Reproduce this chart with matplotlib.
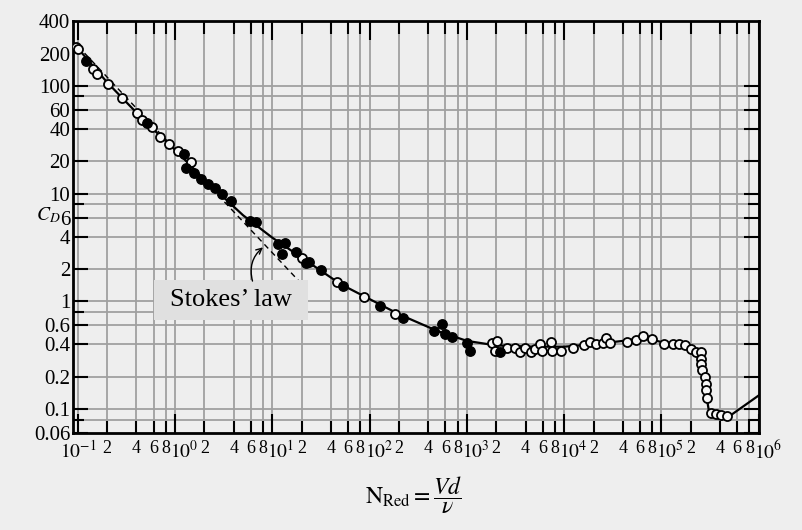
import numpy as np
import matplotlib
matplotlib.use('Agg')
import matplotlib.pyplot as plt
from matplotlib.patches import Rectangle
from matplotlib.transforms import ScaledTranslation

plt.rcParams['font.family'] = ['Liberation Serif', 'DejaVu Serif']
plt.rcParams['mathtext.fontset'] = 'stix'

# Curva suave de C_D frente a Re
re_curve = [0.09, 0.2, 0.5, 1, 2, 5, 10, 20, 50, 100, 200, 500, 1000, 2000, 5000,
            1e4, 2e4, 4e4, 6.5e4, 1e5, 1.6e5, 2.3e5, 2.6e5, 2.8e5, 2.95e5, 3.05e5,
            3.4e5, 4.9e5, 1e6]
cd_curve = [250, 108, 46, 25.5, 13.5, 6.3, 3.9, 2.55, 1.45, 1.05, 0.76, 0.53, 0.43, 0.39, 0.38,
            0.38, 0.40, 0.43, 0.46, 0.42, 0.39, 0.34, 0.30, 0.20, 0.12, 0.10,
            0.09, 0.085, 0.134]

# Ley de Stokes (línea discontinua)
re_stokes = [0.1, 20]
cd_stokes = [235, 1.45]

# Puntos abiertos
re_open = [0.095, 0.1, 0.143, 0.157, 0.203, 0.282, 0.403, 0.453, 0.573, 0.692, 0.855, 1.06,
           1.47, 20.2, 46.1, 87.3, 181,
           1830, 2060, 1920, 2600, 3150, 3540, 3980, 4590, 5050, 5680, 5960, 7360, 7540,
           9310, 12400, 16000, 18500, 21300, 25100, 26900, 29600, 44200, 54700, 64400,
           79800, 106000, 131000, 151000, 174000, 200000, 225000, 253000, 253000, 256000,
           259000, 279000, 285000, 287000, 292000, 321000, 361000, 406000, 468000]
cd_open = [230, 220, 145, 130, 104, 77, 56.5, 48.5, 41.6, 33.4, 28.7, 25.1,
           19.7, 2.53, 1.52, 1.09, 0.76,
           0.41, 0.43, 0.35, 0.37, 0.37, 0.34, 0.37, 0.34, 0.36, 0.40, 0.35, 0.42, 0.35,
           0.35, 0.37, 0.39, 0.42, 0.40, 0.415, 0.46, 0.415, 0.42, 0.44, 0.48,
           0.45, 0.40, 0.40, 0.40, 0.39, 0.36, 0.34, 0.34, 0.29, 0.26,
           0.23, 0.20, 0.17, 0.15, 0.128, 0.092, 0.090, 0.088, 0.087]

# Puntos rellenos
re_fill = [0.121, 0.509, 1.22, 1.28, 1.58, 1.86, 2.15, 2.59, 3.06, 3.79, 5.93, 6.83,
           11.5, 13.5, 12.6, 17.5, 22.3, 23.8, 31.6, 53.1, 127, 219, 455, 550, 589,
           695, 991, 1063, 2210]
cd_fill = [169, 45.4, 23.5, 17.3, 15.5, 13.6, 12.4, 11.4, 10.0, 8.6, 5.53, 5.42,
           3.40, 3.48, 2.75, 2.87, 2.28, 2.33, 1.97, 1.40, 0.90, 0.70, 0.53, 0.62, 0.50,
           0.47, 0.41, 0.35, 0.34]

# Marcas de los ejes
x_major = [10.0 ** k for k in range(-1, 7)]
x_major_labels = [r'$10^{%d}$' % k for k in range(-1, 7)]
x_minor = [m * 10.0 ** k for k in range(-1, 6) for m in (2, 4, 6, 8)]
x_minor_labels = [str(m) for k in range(-1, 6) for m in (2, 4, 6, 8)]
y_major = [400, 200, 100, 60, 40, 20, 10, 6, 4, 2, 1, 0.6, 0.4, 0.2, 0.1, 0.06]
y_major_labels = ['400', '200', '100', '60', '40', '20', '10', '6', '4', '2', '1',
                  '0.6', '0.4', '0.2', '0.1', '0.06']
y_minor = [80, 8, 0.8, 0.08]
y_grid = [100, 80, 60, 40, 20, 10, 8, 6, 4, 2, 1, 0.8, 0.6, 0.4, 0.2, 0.1, 0.08]

bg = '#eeeeee'
fig = plt.figure(figsize=(8.03, 5.30), dpi=100, facecolor=bg)
ax = fig.add_axes([0.0909, 0.183, 0.854, 0.777], facecolor=bg)
ax.set_xscale('log')
ax.set_yscale('log')
ax.set_xlim(0.089, 1e6)
ax.set_ylim(0.06, 400)

# Rejilla
for xv in x_major + x_minor:
    ax.axvline(xv, color='#a0a0a0', lw=1.3, zorder=0)
for yv in y_grid:
    ax.axhline(yv, color='#a0a0a0', lw=1.3, zorder=0)

ax.plot(re_curve, cd_curve, color='black', lw=1.6, zorder=2)
ax.plot(re_stokes, cd_stokes, color='black', lw=1.0, ls=(0, (4, 3)), zorder=2)
ax.plot(re_open, cd_open, 'o', ms=6.5, mfc='#f6f6f6', mec='black', mew=1.3, zorder=3)
ax.plot(re_fill, cd_fill, 'o', ms=6.8, mfc='black', mec='black', zorder=4)

ax.set_xticks(x_major, x_major_labels)
ax.set_xticks(x_minor, x_minor_labels, minor=True)
ax.set_yticks(y_major, y_major_labels)
ax.set_yticks(y_minor, ['' for _ in y_minor], minor=True)

ax.tick_params(axis='both', which='both', direction='in', top=True, right=True,
               color='black', width=1.5)
ax.tick_params(axis='y', labelsize=15)
ax.tick_params(axis='x', which='major', length=14, pad=5, labelsize=14)
ax.tick_params(axis='x', which='minor', length=9, pad=5, labelsize=13)
ax.tick_params(axis='y', which='major', length=11, pad=2)
ax.tick_params(axis='y', which='minor', length=8)
# sin marca en 400 y 200
for t in ax.yaxis.get_major_ticks()[:2]:
    t.tick1line.set_visible(False)
    t.tick2line.set_visible(False)
# las potencias de diez empiezan justo a la izquierda de su marca
shift = ScaledTranslation(-5 / 100, 0, fig.dpi_scale_trans)
for i, lab in enumerate(ax.get_xticklabels()):
    if i > 0:
        lab.set_ha('left')
        lab.set_transform(lab.get_transform() + shift)
for s in ax.spines.values():
    s.set_linewidth(2)

# Recuadro "Stokes' law"
ax.add_patch(Rectangle((0.118, 0.274), 0.225, 0.097, transform=ax.transAxes,
                       facecolor='#e0e0e0', edgecolor='none', zorder=5))
ax.text(0.2305, 0.322, "Stokes\u2019 law", transform=ax.transAxes, fontsize=19,
        ha='center', va='center', zorder=6)
ax.annotate('', xy=(8.4, 3.3), xytext=(6.35, 1.46),
            arrowprops=dict(arrowstyle='->', color='black', lw=1.0,
                            connectionstyle='arc3,rad=-0.35'), zorder=6)

fig.text(0.045, 0.594, r'$C_D$', fontsize=14, ha='left', va='center')
fig.text(0.455, 0.065, r'$\mathrm{N}_{\mathrm{Red}} = \dfrac{V d}{\nu}$', fontsize=17,
         ha='left', va='center')

fig.savefig('out.png', dpi=100, facecolor=bg)
